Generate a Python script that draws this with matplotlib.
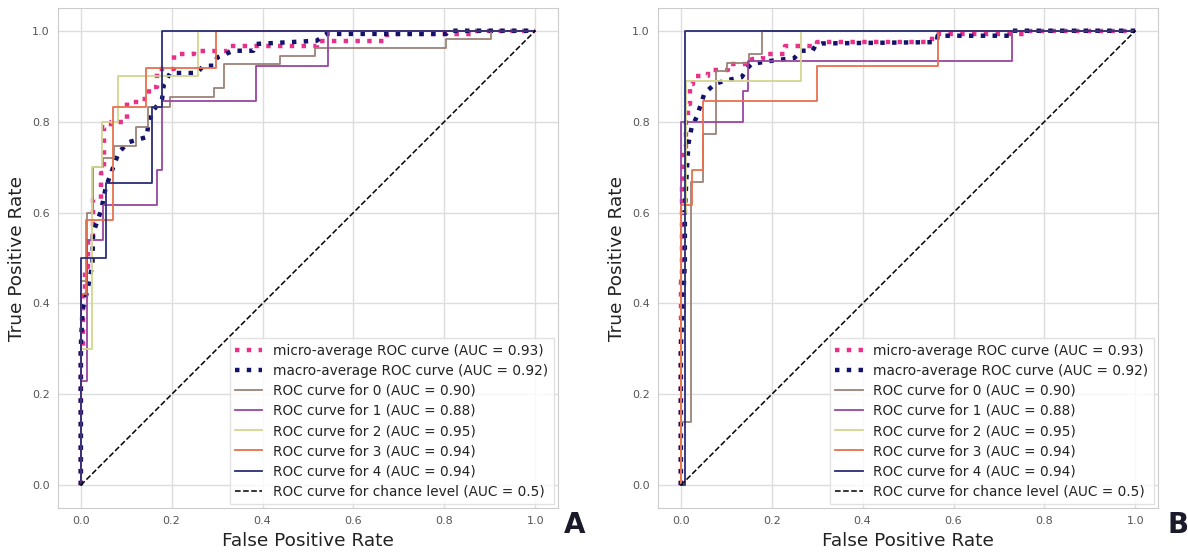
import matplotlib
matplotlib.use("Agg")
import matplotlib.pyplot as plt

# ---- panel A data ----
a_micro_fpr = [0, 0, 0.005, 0.005, 0.01, 0.01, 0.015, 0.015, 0.026, 0.026, 0.044, 0.044, 0.051, 0.051,
               0.066, 0.066, 0.102, 0.102, 0.128, 0.128, 0.15, 0.15, 0.168, 0.168, 0.205, 0.205,
               0.249, 0.249, 0.322, 0.322, 0.519, 0.519, 0.673, 0.673, 0.862, 0.862, 1]
a_micro_tpr = [0, 0.30, 0.30, 0.42, 0.42, 0.48, 0.48, 0.54, 0.54, 0.63, 0.63, 0.686, 0.686, 0.788,
               0.788, 0.80, 0.80, 0.843, 0.843, 0.85, 0.85, 0.876, 0.876, 0.916, 0.916, 0.949,
               0.949, 0.956, 0.956, 0.967, 0.967, 0.978, 0.978, 0.993, 0.993, 1, 1]

a_macro_fpr = [0, 0, 0.004, 0.015, 0.026, 0.027, 0.045, 0.055, 0.069, 0.084, 0.106, 0.145, 0.148,
               0.157, 0.179, 0.183, 0.197, 0.256, 0.27, 0.292, 0.30, 0.336, 0.38, 0.387, 0.519,
               0.541, 0.804, 0.81, 1]
a_macro_tpr = [0, 0.30, 0.386, 0.43, 0.488, 0.554, 0.605, 0.655, 0.693, 0.733, 0.755, 0.766, 0.788,
               0.821, 0.85, 0.883, 0.907, 0.907, 0.923, 0.923, 0.941, 0.956, 0.956, 0.971, 0.978,
               0.993, 0.993, 1, 1]

a_fpr = [
    [0, 0, 0.013, 0.013, 0.026, 0.026, 0.048, 0.048, 0.074, 0.074, 0.121, 0.121, 0.147, 0.147, 0.197,
     0.197, 0.294, 0.294, 0.316, 0.316, 0.439, 0.439, 0.515, 0.515, 0.804, 0.804, 0.903, 0.903, 1],
    [0, 0, 0.013, 0.013, 0.05, 0.05, 0.168, 0.168, 0.178, 0.178, 0.386, 0.386, 0.545, 0.545, 1],
    [0, 0, 0.024, 0.024, 0.047, 0.047, 0.081, 0.081, 0.257, 0.257, 1],
    [0, 0, 0.012, 0.012, 0.071, 0.071, 0.143, 0.143, 0.298, 0.298, 1],
    [0, 0, 0.056, 0.056, 0.156, 0.156, 0.178, 0.178, 1],
]
a_tpr = [
    [0, 0.45, 0.45, 0.60, 0.60, 0.70, 0.70, 0.72, 0.72, 0.746, 0.746, 0.788, 0.788, 0.832, 0.832,
     0.854, 0.854, 0.874, 0.874, 0.927, 0.927, 0.945, 0.945, 0.963, 0.963, 0.982, 0.982, 1, 1],
    [0, 0.23, 0.23, 0.54, 0.54, 0.616, 0.616, 0.693, 0.693, 0.846, 0.846, 0.923, 0.923, 1, 1],
    [0, 0.30, 0.30, 0.70, 0.70, 0.80, 0.80, 0.90, 0.90, 1, 1],
    [0, 0.42, 0.42, 0.583, 0.583, 0.833, 0.833, 0.917, 0.917, 1, 1],
    [0, 0.50, 0.50, 0.665, 0.665, 0.832, 0.832, 1, 1],
]

# ---- panel B data ----
b_micro_fpr = [0, 0, 0.002, 0.002, 0.006, 0.006, 0.011, 0.011, 0.017, 0.017, 0.020, 0.020, 0.028, 0.028,
               0.061, 0.061, 0.105, 0.105, 0.156, 0.156, 0.182, 0.182, 0.229, 0.229, 0.30, 0.30,
               0.552, 0.552, 0.761, 0.761, 1]
b_micro_tpr = [0, 0.45, 0.45, 0.656, 0.656, 0.744, 0.744, 0.803, 0.803, 0.839, 0.839, 0.883, 0.883, 0.901,
               0.901, 0.914, 0.914, 0.927, 0.927, 0.938, 0.938, 0.949, 0.949, 0.967, 0.967, 0.975,
               0.975, 0.993, 0.993, 1, 1]

b_macro_fpr = [0, 0, 0.007, 0.009, 0.009, 0.013, 0.017, 0.024, 0.035, 0.052, 0.075, 0.097, 0.134,
               0.149, 0.156, 0.2, 0.25, 0.264, 0.29, 0.296, 0.31, 0.563, 0.565, 0.725, 0.73, 1]
b_macro_tpr = [0, 0.30, 0.445, 0.488, 0.602, 0.686, 0.752, 0.788, 0.81, 0.862, 0.883, 0.89, 0.898,
               0.92, 0.927, 0.934, 0.94, 0.956, 0.956, 0.967, 0.972, 0.975, 0.989, 0.989, 1, 1]

b_fpr = [
    [0, 0, 0.023, 0.023, 0.05, 0.05, 0.077, 0.077, 0.102, 0.102, 0.15, 0.15, 0.178, 0.178, 1],
    [0, 0, 0.138, 0.138, 0.149, 0.149, 0.729, 0.729, 1],
    [0, 0, 0.011, 0.011, 0.264, 0.264, 1],
    [0, 0, 0.024, 0.024, 0.048, 0.048, 0.30, 0.30, 0.566, 0.566, 1],
    [0, 0.01, 0.01, 1],
]
b_tpr = [
    [0, 0.14, 0.14, 0.667, 0.667, 0.773, 0.773, 0.912, 0.912, 0.930, 0.930, 0.949, 0.949, 1, 1],
    [0, 0.80, 0.80, 0.868, 0.868, 0.934, 0.934, 1, 1],
    [0, 0.60, 0.60, 0.889, 0.889, 1, 1],
    [0, 0.616, 0.616, 0.693, 0.693, 0.846, 0.846, 0.923, 0.923, 1, 1],
    [0, 0, 1, 1],
]

class_auc = [0.90, 0.88, 0.95, 0.94, 0.94]
micro_auc = 0.93
macro_auc = 0.92
class_colors = ["#9c8276", "#9a45a3", "#d3d590", "#e8704c", "#2a2d78"]

plt.rcParams["font.family"] = "DejaVu Sans"

fig = plt.figure(figsize=(11.88, 5.56), dpi=100)
ax_a = fig.add_axes([0.0488, 0.0863, 0.4209, 0.8993])
ax_b = fig.add_axes([0.5539, 0.0863, 0.4209, 0.8993])


def draw_panel(ax, micro_fpr, micro_tpr, macro_fpr, macro_tpr, fprs, tprs):
    ax.plot(micro_fpr, micro_tpr, ":", color="#e8318a", lw=3.2,
            label=f"micro-average ROC curve (AUC = {micro_auc:.2f})")
    ax.plot(macro_fpr, macro_tpr, ":", color="#12126a", lw=3.2,
            label=f"macro-average ROC curve (AUC = {macro_auc:.2f})")
    for i in range(len(fprs)):
        ax.plot(fprs[i], tprs[i], color=class_colors[i], lw=1.3,
                label=f"ROC curve for {i} (AUC = {class_auc[i]:.2f})")
    ax.plot([0, 1], [0, 1], "k--", lw=1.1, label="ROC curve for chance level (AUC = 0.5)")

    ax.set_xlim(-0.05, 1.05)
    ax.set_ylim(-0.05, 1.05)
    ax.set_xticks([0, 0.2, 0.4, 0.6, 0.8, 1.0])
    ax.set_yticks([0, 0.2, 0.4, 0.6, 0.8, 1.0])
    ax.tick_params(length=0, labelsize=8, labelcolor="#555555", pad=6)
    ax.grid(True, color="#dddddd", lw=1)
    ax.set_axisbelow(True)
    for s in ax.spines.values():
        s.set_color("#cccccc")
    ax.set_xlabel("False Positive Rate", fontsize=13.3, color="#222222")
    ax.set_ylabel("True Positive Rate", fontsize=13.3, color="#222222")
    leg = ax.legend(loc="lower right", fontsize=9.8, labelspacing=0.45, borderaxespad=0.3,
                    framealpha=0.85, edgecolor="#dddddd", fancybox=False)
    for t in leg.get_texts():
        t.set_color("#222222")


draw_panel(ax_a, a_micro_fpr, a_micro_tpr, a_macro_fpr, a_macro_tpr, a_fpr, a_tpr)
draw_panel(ax_b, b_micro_fpr, b_micro_tpr, b_macro_fpr, b_macro_tpr, b_fpr, b_tpr)

fig.text(0.484, 0.056, "A", fontsize=20, fontweight="heavy", color="#1a1a2a", ha="center", va="center")
fig.text(0.992, 0.056, "B", fontsize=20, fontweight="heavy", color="#1a1a2a", ha="center", va="center")

fig.savefig("out.png", dpi=100)
